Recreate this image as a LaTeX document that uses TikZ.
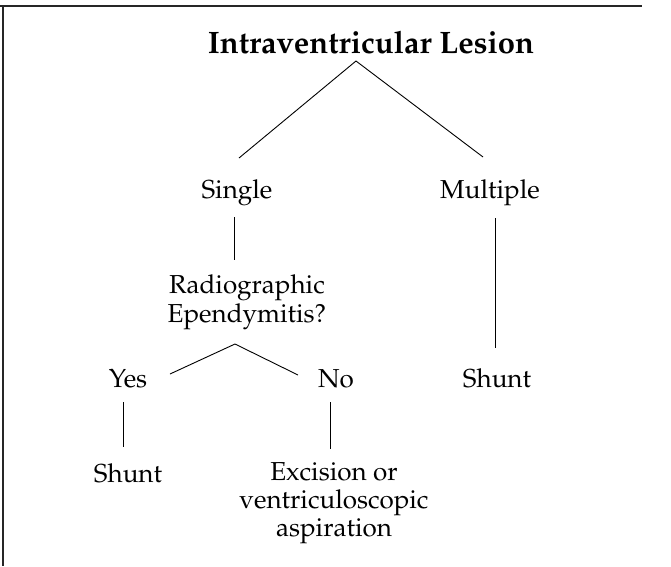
\documentclass[tikz,border=0pt]{standalone}
\usepackage[T1]{fontenc}
\renewcommand{\rmdefault}{ppl}
\begin{document}
\begin{tikzpicture}[x=1pt,y=-1pt,
  lbl/.style={inner sep=0pt,anchor=base,font=\fontsize{26}{29}\selectfont},
  mlbl/.style={inner sep=0pt,anchor=north,align=center,font=\fontsize{26}{29}\selectfont},
  ttl/.style={inner sep=0pt,anchor=base,font=\fontsize{31}{32}\selectfont\bfseries},
  conn/.style={line width=0.9pt,black},
  frame/.style={line width=1.3pt,black!85}]
\useasboundingbox (0,0) rectangle (671,566);
% frame (top and left only)
\coordinate (fTL) at (3,6);
\coordinate (fTR) at (642,6);
\coordinate (fT0) at (0,6);
\coordinate (fBL) at (3,566);
\draw[frame] (fT0) -- (fTR);
\draw[frame] (fTL) -- (fBL);
% nodes
\node[ttl] (title) at (371,53) {Intraventricular Lesion};
\node[lbl] (single) at (237,198) {Single};
\node[lbl] (multiple) at (490,198) {Multiple};
\node[mlbl] (radio) at (247,274) {Radiographic\\Ependymitis?};
\node[lbl] (yes) at (128,387) {Yes};
\node[lbl] (no) at (336,387) {No};
\node[lbl] (shuntR) at (497,387) {Shunt};
\node[lbl] (shuntL) at (128,482) {Shunt};
\node[mlbl,font=\fontsize{26}{28}\selectfont] (excision) at (334,462) {Excision or\\ventriculoscopic\\aspiration};
% connector end points
\coordinate (apexA) at (356,61);
\coordinate (singleT) at (239,158);
\coordinate (multipleT) at (483,157);
\coordinate (singleB) at (234,217);
\coordinate (radioT) at (234,260);
\coordinate (multipleB) at (495,218);
\coordinate (shuntRT) at (495,348);
\coordinate (apexB) at (235,344);
\coordinate (yesT) at (170,374);
\coordinate (noT) at (298,375);
\coordinate (yesB) at (123,402);
\coordinate (shuntLT) at (123,447);
\coordinate (noB) at (330,402);
\coordinate (excisionT) at (330,449);
% connectors
\draw[conn] (singleT) -- (apexA) -- (multipleT);
\draw[conn] (singleB) -- (radioT);
\draw[conn] (multipleB) -- (shuntRT);
\draw[conn] (yesT) -- (apexB) -- (noT);
\draw[conn] (yesB) -- (shuntLT);
\draw[conn] (noB) -- (excisionT);
\end{tikzpicture}
\end{document}
